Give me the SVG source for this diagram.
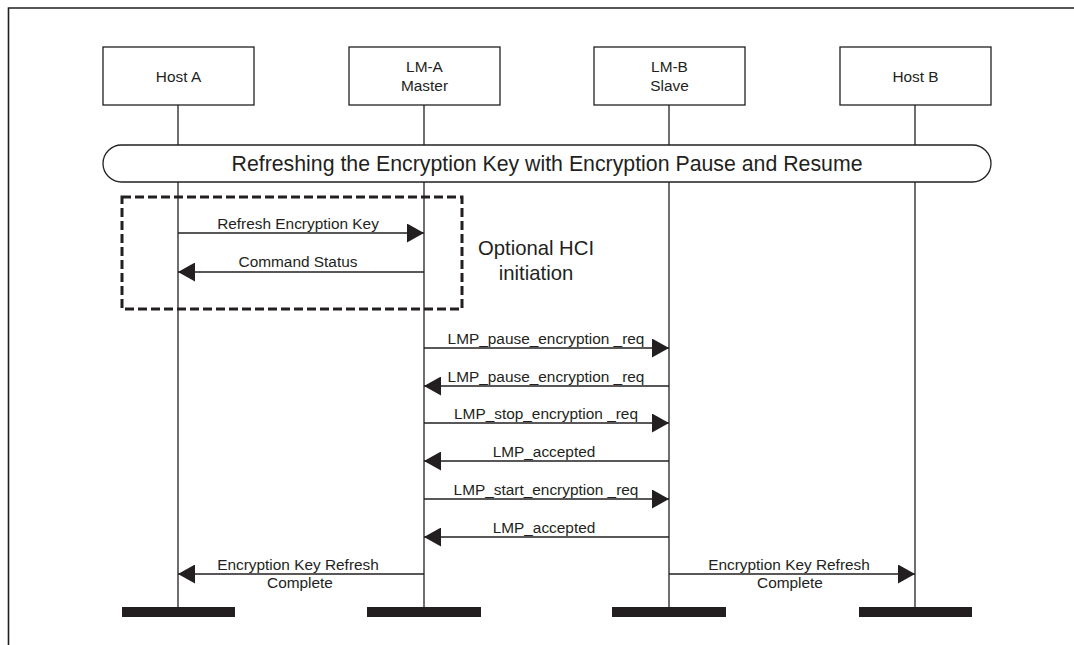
<svg xmlns="http://www.w3.org/2000/svg" width="1074" height="645" viewBox="0 0 1074 645">
<style>
text{font-family:"Liberation Sans",Arial,sans-serif;fill:#231f20}
.lbl{font-size:15.4px;text-anchor:middle}
.box{fill:#fff;stroke:#231f20;stroke-width:1.3}
.life{stroke:#231f20;stroke-width:1.3;fill:none}
.bar{fill:#231f20}
.msg{stroke:#231f20;stroke-width:1.3;fill:none;marker-end:url(#ah)}
</style>
<defs>
<marker id="ah" markerUnits="userSpaceOnUse" markerWidth="17" markerHeight="19" refX="17" refY="9.5" orient="auto" viewBox="0 0 17 19">
<path d="M0,0 L17,9.5 L0,19 Z" fill="#231f20"/>
</marker>
</defs>
<rect width="1074" height="645" fill="#fff"/>
<path d="M8.5,645 L8.5,8 L1074,8" fill="none" stroke="#231f20" stroke-width="1.6"/>

<g id="hostA">
<line class="life" x1="178" y1="105" x2="178" y2="607"/>
<rect class="box" x="103" y="47" width="151" height="58"/>
<text class="lbl" x="178.5" y="82">Host A</text>
<rect class="bar" x="122" y="607" width="113" height="10"/>
</g>
<g id="lmA">
<line class="life" x1="424" y1="105" x2="424" y2="607"/>
<rect class="box" x="349" y="47" width="151" height="58"/>
<text class="lbl" x="424.5" y="72">LM-A</text>
<text class="lbl" x="424.5" y="91">Master</text>
<rect class="bar" x="367" y="607" width="114" height="10"/>
</g>
<g id="lmB">
<line class="life" x1="669" y1="105" x2="669" y2="607"/>
<rect class="box" x="594" y="47" width="151" height="58"/>
<text class="lbl" x="669.5" y="72">LM-B</text>
<text class="lbl" x="669.5" y="91">Slave</text>
<rect class="bar" x="612" y="607" width="114" height="10"/>
</g>
<g id="hostB">
<line class="life" x1="915" y1="105" x2="915" y2="607"/>
<rect class="box" x="840" y="47" width="151" height="58"/>
<text class="lbl" x="915.5" y="82">Host B</text>
<rect class="bar" x="859" y="607" width="113" height="10"/>
</g>

<g id="phase">
<rect class="box" x="103" y="145" width="888" height="37" rx="18.5" ry="18.5"/>
<text x="547" y="170.5" font-size="21.3" text-anchor="middle">Refreshing the Encryption Key with Encryption Pause and Resume</text>
</g>

<g id="optionalHCI">
<rect x="122" y="197" width="340" height="112" fill="none" stroke="#231f20" stroke-width="3" stroke-dasharray="9,4"/>
<text x="536" y="255" font-size="20.3" text-anchor="middle">Optional HCI</text>
<text x="536" y="280" font-size="20.3" text-anchor="middle">initiation</text>
</g>

<g id="connectors">
<line class="msg" x1="178" y1="233" x2="424" y2="233"/>
<line class="msg" x1="424" y1="272" x2="178" y2="272"/>
<line class="msg" x1="424" y1="348" x2="669" y2="348"/>
<line class="msg" x1="669" y1="386" x2="424" y2="386"/>
<line class="msg" x1="424" y1="423" x2="669" y2="423"/>
<line class="msg" x1="669" y1="461" x2="424" y2="461"/>
<line class="msg" x1="424" y1="499" x2="669" y2="499"/>
<line class="msg" x1="669" y1="537" x2="424" y2="537"/>
<line class="msg" x1="424" y1="574" x2="178" y2="574"/>
<line class="msg" x1="669" y1="574" x2="915" y2="574"/>
<text class="lbl" x="298" y="229">Refresh Encryption Key</text>
<text class="lbl" x="298" y="267">Command Status</text>
<text class="lbl" x="546" y="344">LMP_pause_encryption _req</text>
<text class="lbl" x="546" y="382">LMP_pause_encryption _req</text>
<text class="lbl" x="546" y="419">LMP_stop_encryption _req</text>
<text class="lbl" x="544" y="457">LMP_accepted</text>
<text class="lbl" x="546" y="495">LMP_start_encryption _req</text>
<text class="lbl" x="544" y="533">LMP_accepted</text>
<text class="lbl" x="298" y="570">Encryption Key Refresh</text>
<text class="lbl" x="300" y="588">Complete</text>
<text class="lbl" x="789" y="570">Encryption Key Refresh</text>
<text class="lbl" x="790" y="588">Complete</text>
</g>
</svg>
